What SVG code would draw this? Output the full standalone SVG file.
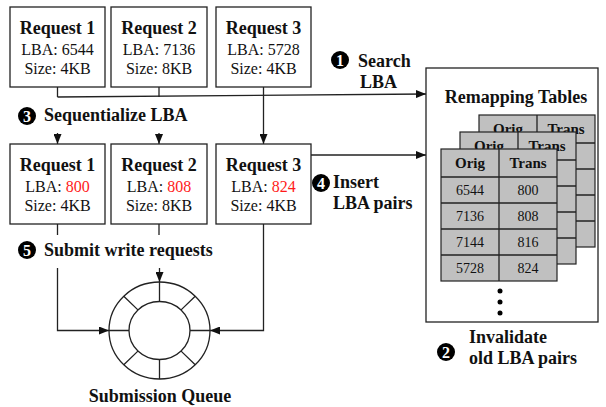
<svg xmlns="http://www.w3.org/2000/svg" width="606" height="407" viewBox="0 0 606 407">
  <style>
    text { font-family: "Liberation Serif", Tinos, "DejaVu Serif", serif; }
    .box { fill: #fff; stroke: #222; stroke-width: 1.3; }
    .line { fill: none; stroke: #222; stroke-width: 1.3; }
    .title { font-weight: bold; font-size: 18px; fill: #111; text-anchor: middle; }
    .val { font-size: 16px; fill: #111; text-anchor: middle; }
    .red { fill: #ff1a1a; }
    .lbl { font-weight: bold; font-size: 18px; fill: #111; }
    .badge { fill: #000; }
    .num { font-weight: bold; font-size: 16px; fill: #fff; text-anchor: middle; }
    .cell { fill: #c0c0c0; stroke: #222; stroke-width: 1.2; }
    .th { font-weight: bold; font-size: 15px; fill: #111; text-anchor: middle; }
    .td { font-size: 14px; fill: #111; text-anchor: middle; }
  </style>
  <defs>
    <marker id="arr" viewBox="0 0 10 8" refX="10" refY="4" markerWidth="10" markerHeight="8" markerUnits="userSpaceOnUse" orient="auto">
      <path d="M0,0 L10,4 L0,8 Z" fill="#111"/>
    </marker>
    <g id="tbl">
      <rect class="cell" x="0" y="0" width="116" height="132"/>
      <path class="line" d="M58,0 V132 M0,28 H116 M0,54 H116 M0,80 H116 M0,106 H116" stroke-width="1.2"/>
      <text class="th" x="29" y="19">Orig</text>
      <text class="th" x="87" y="19">Trans</text>
    </g>
  </defs>

  <!-- connectors -->
  <g id="connectors">
    <path class="line" d="M57.5,87 V97 M159,87 V97"/>
    <path class="line" d="M57.5,97 L426,94" marker-end="url(#arr)"/>
    <path class="line" d="M57.5,133 V144" marker-end="url(#arr)"/>
    <path class="line" d="M159,133 V144" marker-end="url(#arr)"/>
    <path class="line" d="M263.5,87 V144" marker-end="url(#arr)"/>
    <path class="line" d="M311,155 H426" marker-end="url(#arr)"/>
    <path class="line" d="M57.5,224 V235 M159,224 V235"/>
    <path class="line" d="M57.5,268 V330.5 H109" marker-end="url(#arr)"/>
    <path class="line" d="M159.5,268 V282" marker-end="url(#arr)"/>
    <path class="line" d="M263.5,224 V330.5 H210" marker-end="url(#arr)"/>
  </g>

  <!-- incoming requests -->
  <g id="req1-in">
    <rect class="box" x="10" y="7" width="95" height="80"/>
    <text class="title" x="57.5" y="34">Request 1</text>
    <text class="val" x="57.5" y="55">LBA: 6544</text>
    <text class="val" x="57.5" y="74">Size: 4KB</text>
  </g>
  <g id="req2-in">
    <rect class="box" x="111" y="7" width="96" height="80"/>
    <text class="title" x="159" y="34">Request 2</text>
    <text class="val" x="159" y="55">LBA: 7136</text>
    <text class="val" x="159" y="74">Size: 8KB</text>
  </g>
  <g id="req3-in">
    <rect class="box" x="216" y="7" width="95" height="80"/>
    <text class="title" x="263.5" y="34">Request 3</text>
    <text class="val" x="263.5" y="55">LBA: 5728</text>
    <text class="val" x="263.5" y="74">Size: 4KB</text>
  </g>

  <!-- sequentialized requests -->
  <g id="req1-seq">
    <rect class="box" x="10" y="144" width="95" height="80"/>
    <text class="title" x="57.5" y="171">Request 1</text>
    <text class="val" x="57.5" y="192">LBA: <tspan class="red">800</tspan></text>
    <text class="val" x="57.5" y="211">Size: 4KB</text>
  </g>
  <g id="req2-seq">
    <rect class="box" x="111" y="144" width="96" height="80"/>
    <text class="title" x="159" y="171">Request 2</text>
    <text class="val" x="159" y="192">LBA: <tspan class="red">808</tspan></text>
    <text class="val" x="159" y="211">Size: 8KB</text>
  </g>
  <g id="req3-seq">
    <rect class="box" x="216" y="144" width="95" height="80"/>
    <text class="title" x="263.5" y="171">Request 3</text>
    <text class="val" x="263.5" y="192">LBA: <tspan class="red">824</tspan></text>
    <text class="val" x="263.5" y="211">Size: 4KB</text>
  </g>

  <!-- submission queue ring -->
  <g id="submission-queue">
    <ellipse class="line" cx="159.5" cy="330.5" rx="50.5" ry="48.5"/>
    <ellipse class="line" cx="159.5" cy="330.5" rx="30.5" ry="29"/>
    <path class="line" d="M159.5,282 V301.5 M159.5,359.5 V379 M109,330.5 H129 M190,330.5 H210
      M123.8,296.3 L137.9,309.9 M195.2,296.3 L181.1,309.9 M123.8,364.7 L137.9,351.1 M195.2,364.7 L181.1,351.1"/>
    <text class="title" x="160" y="402">Submission Queue</text>
  </g>

  <!-- remapping tables -->
  <g id="remapping-tables">
    <rect class="box" x="426" y="68" width="172" height="254"/>
    <text class="title" x="516" y="103">Remapping Tables</text>
    <use href="#tbl" x="479" y="115"/>
    <use href="#tbl" x="460" y="132"/>
    <use href="#tbl" x="441" y="149"/>
    <g class="td">
      <text x="470" y="195">6544</text><text x="528" y="195">800</text>
      <text x="470" y="221">7136</text><text x="528" y="221">808</text>
      <text x="470" y="247">7144</text><text x="528" y="247">816</text>
      <text x="470" y="273">5728</text><text x="528" y="273">824</text>
    </g>
    <circle cx="500" cy="291" r="2.5" fill="#000"/>
    <circle cx="500" cy="302" r="2.5" fill="#000"/>
    <circle cx="500" cy="313" r="2.5" fill="#000"/>
  </g>

  <!-- step labels -->
  <g id="step1">
    <circle class="badge" cx="340" cy="60" r="9"/>
    <text class="num" x="340" y="65.5">1</text>
    <text class="lbl" x="358" y="67">Search</text>
    <text class="lbl" x="360" y="88">LBA</text>
  </g>
  <g id="step2">
    <circle class="badge" cx="446" cy="352" r="9"/>
    <text class="num" x="446" y="357.5">2</text>
    <text class="lbl" x="469" y="343">Invalidate</text>
    <text class="lbl" x="469" y="364">old LBA pairs</text>
  </g>
  <g id="step3">
    <circle class="badge" cx="27" cy="116" r="9"/>
    <text class="num" x="27" y="121.5">3</text>
    <text class="lbl" x="44" y="121">Sequentialize LBA</text>
  </g>
  <g id="step4">
    <circle class="badge" cx="321" cy="183" r="9"/>
    <text class="num" x="321" y="188.5">4</text>
    <text class="lbl" x="333" y="188">Insert</text>
    <text class="lbl" x="333" y="209">LBA pairs</text>
  </g>
  <g id="step5">
    <circle class="badge" cx="27" cy="250" r="9"/>
    <text class="num" x="27" y="255.5">5</text>
    <text class="lbl" x="44" y="256">Submit write requests</text>
  </g>
</svg>
